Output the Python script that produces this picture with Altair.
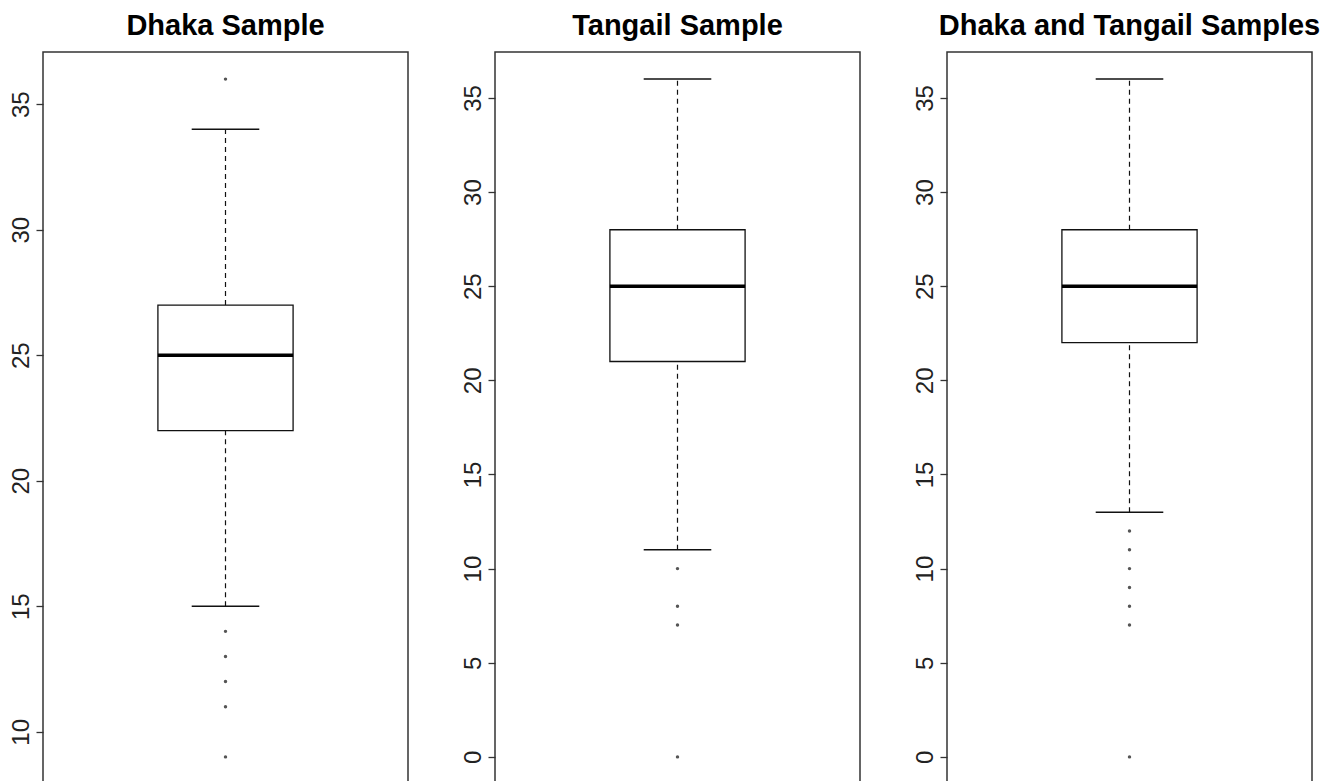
import altair as alt
import pandas as pd

# ---- data ----
titles = ["Dhaka Sample", "Tangail Sample", "Dhaka and Tangail Samples"]
lower_whisker = [15, 11, 13]
q1 = [22, 21, 22]
median = [25, 25, 25]
q3 = [27, 28, 28]
upper_whisker = [34, 36, 36]
outliers = [
    [36, 14, 13, 12, 11, 9],
    [10, 8, 7, 0],
    [12, 11, 10, 9, 8, 7, 0],
]
y_ticks = [
    [10, 15, 20, 25, 30, 35],
    [0, 5, 10, 15, 20, 25, 30, 35],
    [0, 5, 10, 15, 20, 25, 30, 35],
]

FONT = "Liberation Sans"
W, H = 365, 732


def panel(i):
    vals = [lower_whisker[i], upper_whisker[i]] + outliers[i]
    lo, hi = min(vals), max(vals)
    ext = 0.04 * (hi - lo)
    ydom = [lo - ext, hi + ext]

    xs = alt.Scale(domain=[0.46, 1.54], nice=False, zero=False)
    ys = alt.Scale(domain=ydom, nice=False, zero=False)
    yaxis = alt.Axis(
        values=y_ticks[i], labelAngle=270, labelAlign="center",
        labelBaseline="alphabetic", labelPadding=8, tickSize=7,
        tickColor="#333", tickWidth=1.3, domain=False, grid=False,
        labelFont=FONT, labelFontSize=24, labelColor="#222", title=None,
    )

    box_df = pd.DataFrame({"x": [0.8], "x2": [1.2], "q1": [q1[i]], "q3": [q3[i]],
                           "med": [median[i]]})
    wh_df = pd.DataFrame({"x": [1.0, 1.0], "y": [q3[i], lower_whisker[i]],
                          "y2": [upper_whisker[i], q1[i]]})
    cap_df = pd.DataFrame({"x": [0.9, 0.9], "x2": [1.1, 1.1],
                           "y": [upper_whisker[i], lower_whisker[i]]})
    out_df = pd.DataFrame({"x": [1.0] * len(outliers[i]), "y": outliers[i]})

    whisk = alt.Chart(wh_df).mark_rule(color="#111", strokeWidth=1.2, strokeDash=[5, 4]).encode(
        x=alt.X("x:Q", scale=xs, axis=None),
        y=alt.Y("y:Q", scale=ys, axis=yaxis),
        y2="y2:Q",
    )
    caps = alt.Chart(cap_df).mark_rule(color="#111", strokeWidth=1.5).encode(
        x=alt.X("x:Q", scale=xs, axis=None), x2="x2:Q",
        y=alt.Y("y:Q", scale=ys),
    )
    box = alt.Chart(box_df).mark_rect(fill="white", stroke="#111", strokeWidth=1.3).encode(
        x=alt.X("x:Q", scale=xs, axis=None), x2="x2:Q",
        y=alt.Y("q1:Q", scale=ys), y2="q3:Q",
    )
    med = alt.Chart(box_df).mark_rule(color="black", strokeWidth=3.5).encode(
        x=alt.X("x:Q", scale=xs, axis=None), x2="x2:Q",
        y=alt.Y("med:Q", scale=ys),
    )
    pts = alt.Chart(out_df).mark_point(filled=True, size=12, color="#555", opacity=1).encode(
        x=alt.X("x:Q", scale=xs, axis=None),
        y=alt.Y("y:Q", scale=ys),
    )
    return alt.layer(whisk, caps, box, med, pts).properties(
        width=W, height=H,
        title=alt.TitleParams(
            titles[i], font=FONT, fontSize=29, fontWeight="bold", color="black",
            anchor="middle", frame="group", baseline="alphabetic", offset=-12,
        ),
    )


chart = alt.hconcat(panel(0), panel(1), panel(2), spacing=51).properties(
    padding={"left": 0, "top": 3, "right": 0, "bottom": 0},
    background="white",
).configure_view(stroke="#333", strokeWidth=1.5)

chart.save("out.html", embed_options={"renderer": "svg", "actions": False})
